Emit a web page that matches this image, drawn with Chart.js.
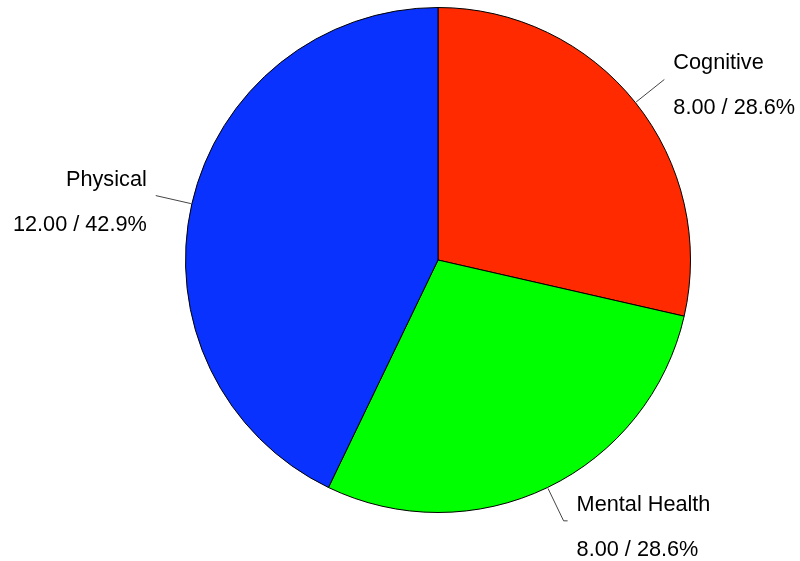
<!DOCTYPE html>
<html>
<head>
<meta charset="utf-8">
<script src="https://cdn.jsdelivr.net/npm/chart.js@4.4.0/dist/chart.umd.min.js"></script>
<style>
  html, body { margin: 0; padding: 0; background: #ffffff; }
  #wrap { width: 800px; height: 561px; position: relative; }
</style>
</head>
<body>
<div id="wrap"><canvas id="c" width="800" height="561"></canvas></div>
<script>
const categories = ['Cognitive', 'Mental Health', 'Physical'];
const values = [8, 8, 12];
const colors = ['#FF2A00', '#00FF00', '#0A32FF'];

// label styling (not data)
const labelSide = [1, 1, -1];      // 1 = text to the right of leader end, -1 = left
const labelTail = [0, 4, 0];       // short horizontal tail at leader end

const total = values.reduce((a, b) => a + b, 0);

const labelPlugin = {
  id: 'pieLabels',
  afterDatasetsDraw(chart) {
    const ctx = chart.ctx;
    const meta = chart.getDatasetMeta(0);
    ctx.save();
    ctx.font = '21.7px "Liberation Sans", Arial, sans-serif';
    ctx.fillStyle = '#000000';
    ctx.strokeStyle = '#444444';
    ctx.lineWidth = 1;
    meta.data.forEach((arc, i) => {
      const mid = (arc.startAngle + arc.endAngle) / 2;
      const r = arc.outerRadius;
      const cx = arc.x, cy = arc.y;
      const x0 = cx + Math.cos(mid) * (r + 1);
      const y0 = cy + Math.sin(mid) * (r + 1);
      const x1 = cx + Math.cos(mid) * (r + 37);
      const y1 = cy + Math.sin(mid) * (r + 37);
      const side = labelSide[i];
      const x2 = x1 + side * labelTail[i];
      ctx.beginPath();
      ctx.moveTo(x0, y0);
      ctx.lineTo(x1, y1);
      if (labelTail[i] > 0) ctx.lineTo(x2, y1);
      ctx.stroke();
      const tx = x2 + side * 9;
      ctx.textAlign = side > 0 ? 'left' : 'right';
      ctx.textBaseline = 'alphabetic';
      const pct = values[i] / total * 100;
      ctx.fillText(categories[i], tx, y1 - 10);
      ctx.fillText(values[i].toFixed(2) + ' / ' + pct.toFixed(1) + '%', tx, y1 + 35);
    });
    ctx.restore();
  }
};

new Chart(document.getElementById('c'), {
  type: 'pie',
  data: {
    labels: categories,
    datasets: [{
      data: values,
      backgroundColor: colors,
      borderColor: '#000000',
      borderWidth: 1
    }]
  },
  options: {
    responsive: false,
    animation: false,
    layout: { padding: { top: 7, bottom: 48, left: 76, right: 0 } },
    plugins: {
      legend: { display: false },
      tooltip: { enabled: false }
    }
  },
  plugins: [labelPlugin]
});
</script>
</body>
</html>
